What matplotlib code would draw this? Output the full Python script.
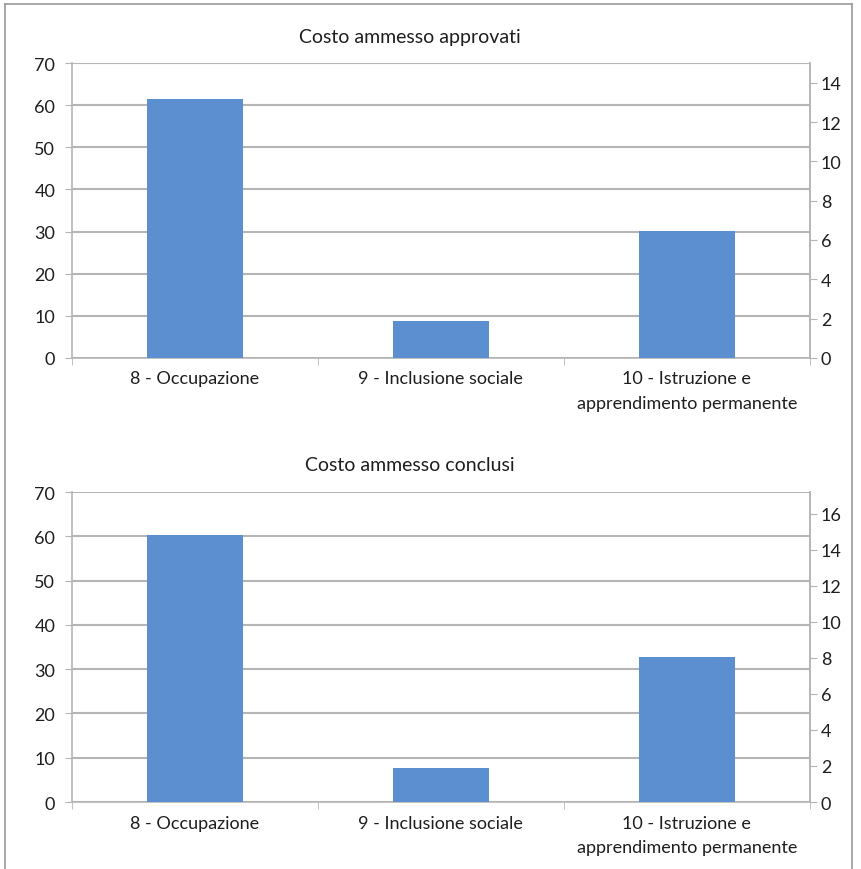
import numpy as np
import matplotlib.pyplot as plt
from matplotlib.lines import Line2D

categories = ['8 - Occupazione', '9 - Inclusione sociale',
              '10 - Istruzione e\napprendimento permanente']
approvati = [61.5, 8.8, 30.2]
conclusi = [60.3, 7.7, 32.7]
titles = ['Costo ammesso approvati', 'Costo ammesso conclusi']
right_max = [15.0, 17.2]

plt.rcParams['font.family'] = ['Lato', 'DejaVu Sans']
plt.rcParams['font.size'] = 13

BAR = '#5b8fcf'
GRID = '#b5b5b5'
TXT = '#1e1e1e'

fig = plt.figure(figsize=(8.61, 8.70), dpi=100)

# outer frame
W, H = 861, 870
for xs, ys in [([5, 5], [0, 865]), ([5, 852], [865, 865]), ([852, 852], [865, 0])]:
    fig.add_artist(Line2D([x / W for x in xs], [y / H for y in ys],
                          color='#9a9a9a', lw=1.2, transform=fig.transFigure))

boxes = [[0.0836, 0.5874, 0.857, 0.339], [0.0836, 0.0770, 0.857, 0.3563]]
title_y = [1 - 38 / H, 1 - 466 / H]

for i, vals in enumerate([approvati, conclusi]):
    ax = fig.add_axes(boxes[i])
    x = np.arange(len(categories))
    ax.bar(x, vals, width=0.39, color=BAR, zorder=3)
    ax.set_xlim(-0.5, 2.5)
    ax.set_ylim(0, 70)
    ax.set_yticks(np.arange(0, 71, 10))
    ax.grid(axis='y', color=GRID, lw=1.5, zorder=0)
    ax.set_xticks(x)
    ax.set_xticklabels(categories, color=TXT, linespacing=1.65)
    ax.tick_params(axis='x', length=0, pad=9)
    ax.set_xticks([-0.5, 0.5, 1.5, 2.5], minor=True)
    ax.tick_params(axis='x', which='minor', length=5, color=GRID, direction='out')
    ax.tick_params(axis='y', length=5, color=GRID, labelcolor=TXT, pad=7)
    ax.spines['top'].set_visible(False)
    for s in ['left', 'bottom', 'right']:
        ax.spines[s].set_color(GRID)
        ax.spines[s].set_linewidth(1.2)

    ax2 = ax.twinx()
    ax2.set_ylim(0, right_max[i])
    ax2.set_yticks(np.arange(0, right_max[i], 2))
    ax2.tick_params(axis='y', length=5, color=GRID, labelcolor=TXT, pad=3)
    for s in ['top', 'left', 'bottom']:
        ax2.spines[s].set_visible(False)
    ax2.spines['right'].set_color(GRID)
    ax2.spines['right'].set_linewidth(1.2)

    fig.text(410 / W, title_y[i], titles[i], ha='center', va='center',
             fontsize=14, color=TXT)

fig.savefig('out.png', dpi=100)
